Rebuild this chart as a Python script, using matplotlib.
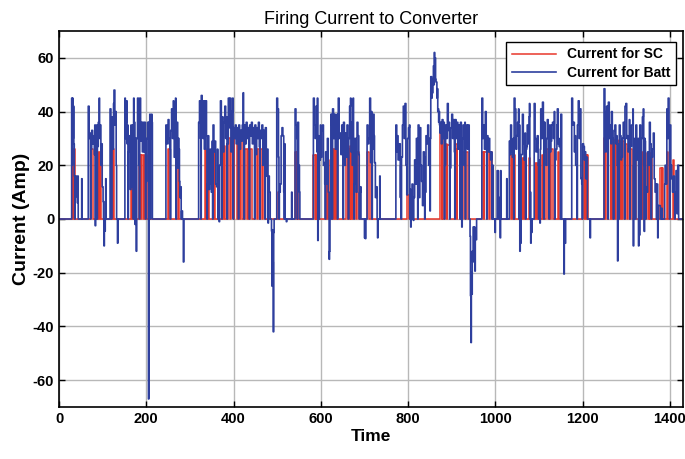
import numpy as np
import matplotlib
matplotlib.use('Agg')
import matplotlib.pyplot as plt

plt.rcParams['font.family'] = ['Liberation Sans', 'DejaVu Sans']
plt.rcParams['axes.unicode_minus'] = False

# Corrente da bateria (tempo, corrente)
batt_pts = [
    (0, 0), (28, 0), (29, 45), (30, 20), (31, 45), (32, 30), (33, 42), (34, 28), (35, 16), (37, 8), (38, 16),
    (40, 14), (42, 6), (43, 16), (44, 0), (51, 0), (52, 15), (53, 0),
    (66, 0), (67, 42), (69, 30), (71, 32), (73, 26), (75, 33), (77, 28), (79, 31), (81, 24), (82, 35), (83, -2.5),
    (84, 32), (86, 35), (88, 27), (90, 36), (92, 45), (93, 30), (94, 35), (96, 20), (97, 28), (99, 12), (101, 6.5),
    (102, 0), (103, -10), (104, 0), (105, -4.5), (106, 6.5), (107, 15), (108, 0),
    (116, 0), (117, 41), (119, 30), (121, 38), (123, 26), (125, 43), (126, 48), (128, 35), (130, 40), (131, 20),
    (132, 0), (134, -9), (135, 0),
    (150, 0), (151, 45), (152, 30), (153, 36), (155, 44), (156, 28), (157, 35), (159, 25), (161, 31), (163, 11),
    (165, 35), (166, 20), (167, 12), (169, 35), (171, 45), (172, 36), (174, -2), (175, 30), (177, -12), (178, 30),
    (180, 45), (182, 36), (183, 20), (185, 45), (187, 29), (189, 36), (191, 25), (193, 36), (195, 25), (197, 36),
    (199, 14), (201, 30), (203, 36), (205, -67), (206, 36), (208, 39), (210, 30), (212, 39), (213, 36), (214, 0),
    (244, 0), (245, 35), (247, 28), (250, 37), (252, 30), (254, 26), (256, 33), (258, 41), (260, 30), (262, 44),
    (263, 32), (264, 23), (266, 36), (267, 45), (269, 30), (270, 36), (272, 19), (273, 30), (275, 26), (276, 14),
    (277, 8), (279, 12), (281, 3), (283, 0), (285, -16), (286, 0),
    (319, 0), (320, 36), (322, 44), (324, 30), (326, 46), (328, 40), (330, 30), (331, 44), (333, 26), (335, 36),
    (336, 44), (338, 31), (340, 13), (342, 31), (343, 11), (345, 13), (347, 26), (349, 10), (351, 29), (353, 35),
    (355, 25), (357, 29), (359, 13), (361, 12), (363, 26), (365, 13), (367, -1), (368, 20), (370, 44), (372, 30),
    (374, 38), (376, 25), (378, 36), (380, 42), (382, 30), (384, 38), (386, 28), (388, 45), (390, 34), (392, 45),
    (394, 25), (396, 40), (398, 45), (400, 34), (402, 30), (404, 35), (406, 28), (408, 34), (410, 30), (412, 35),
    (414, 26), (416, 33), (418, 29), (420, 35), (422, 47), (423, 30), (425, 35), (427, 28), (429, 36), (431, 30),
    (433, 34), (435, 26), (437, 35), (439, 31), (441, 36), (443, 28), (445, 34), (447, 30), (449, 35), (451, 24),
    (453, 34), (455, 30), (457, 36), (459, 27), (461, 33), (463, 30), (465, 35), (467, 20), (469, 33), (471, 28),
    (473, 34), (475, 16), (477, 26), (479, -1.5), (480, 16), (482, 10), (484, 0), (487, -4.5), (488, -25),
    (489, -4), (490, -16), (491, -42), (492, -5), (493, 0),
    (498, 0), (499, 45), (501, 41), (503, 23), (505, 10), (507, 13), (509, 31), (511, 34), (513, 31), (515, 10),
    (517, 28), (518, 0), (521, -1), (522, 0), (532, 0), (533, 10), (534, 0),
    (540, 0), (541, 41), (543, 35), (545, 30), (547, 36), (549, 20), (551, 10), (552, 0),
    (582, 0), (583, 45), (585, 35), (587, 30), (589, 42), (591, 25), (592, 45), (593, -8), (594, 30), (595, 31),
    (597, 22), (599, 35), (600, 23), (602, 33), (604, 35), (606, 20), (607, 21), (609, 13), (611, 25), (613, 13),
    (615, 30), (617, 10), (619, -15), (620, -12), (621, 0), (623, 39), (625, 35), (627, 41), (629, 30), (631, 39),
    (633, 26), (635, 38), (637, 39), (639, 30), (640, 45), (642, 30), (644, 32), (646, 24), (648, 35), (650, 28),
    (652, 36), (654, 20), (656, 32), (658, 23), (660, 35), (662, 27), (664, 30), (666, 42), (668, 45), (669, 25),
    (671, 36), (672, 20), (674, 45), (675, 30), (677, 13), (679, 30), (681, 10), (683, 36), (685, 31), (687, 24),
    (689, 10), (691, 12), (692, 0),
    (699, 0), (700, -7), (701, 0), (702, -7.3), (703, 0), (705, 0), (706, 35), (708, 28), (710, 30), (712, 45),
    (714, 21), (716, 40), (718, 26), (720, 39), (722, 31), (723, 21), (725, 8), (727, 12), (729, 0), (730, -7),
    (731, 0), (734, 0), (735, 16), (736, 0),
    (770, 0), (772, 35), (774, 25), (775, 31), (777, 22), (779, 25), (780, 28), (782, 8), (783, 20), (785, 23),
    (787, 35), (789, 42), (791, 30), (793, 43), (795, 20), (797, 9), (799, 30), (801, 34), (803, 35), (805, 11),
    (806, -3), (807, 0), (809, 13), (811, 0), (812, -0.5), (813, 8), (815, 22), (817, 13), (819, 30), (821, 20),
    (823, 35), (825, 8), (827, 34), (829, 20), (831, 14), (833, 5), (835, 25), (837, 23), (839, 10), (841, 31),
    (843, 28), (845, 35), (847, 20), (849, 30), (850, 3),
    (851, 30), (852, 53), (854, 45), (855, 47), (857, 52), (858, 57), (859, 50), (860, 62), (861, 55), (862, 60),
    (863, 52), (864, 51), (866, 45), (867, 48.5), (868, 40), (869, 41), (870, 36), (871, 40), (872, 35), (873, 32),
    (874, 36), (876, 28), (878, 37), (880, 30), (882, 36), (884, 20), (886, 35), (888, 30), (890, 43), (892, 33),
    (894, 36), (896, 19), (898, 34), (900, 39), (902, 30), (904, 37), (906, 25), (908, 37), (910, 30), (912, 36),
    (914, 26), (916, 35), (918, 29), (920, 36), (922, 25), (923, -3), (924, 30), (926, 35), (928, 20), (930, 36),
    (932, 28), (934, 35), (936, 26), (938, 35), (940, 0),
    (941, 0), (942, -6.4), (943, -28.6), (944, -46), (945, -20), (946, -28), (947, -12), (948, -16), (949, -3),
    (951, -14), (952, -3), (953, -19.4), (954, -5), (956, -7.7), (957, 0),
    (968, 0), (969, 45), (971, 30), (973, 35), (975, 26), (977, 40), (979, 29), (981, 31), (983, 25), (985, 30),
    (987, 25), (989, 22), (991, 25), (993, 20), (995, 0), (999, -5), (1000, 0),
    (1003, 0), (1004, 18), (1006, 18), (1007, 0), (1009, 8), (1010, 0), (1011, -7), (1012, 18), (1013, 0),
    (1025, 0), (1026, 15), (1027, 0),
    (1030, 0), (1032, 29), (1034, 24), (1035, 35), (1037, 25), (1039, 23), (1041, 30), (1043, 45), (1045, 41),
    (1047, 26), (1049, 31), (1051, 36), (1053, 41), (1055, 35), (1056, -12), (1057, 0), (1058, -9), (1059, 24),
    (1060, 24), (1062, 39), (1064, 28), (1066, 22), (1068, 32), (1070, 26), (1072, 27), (1073, 35), (1075, 28),
    (1077, 38), (1078, 43), (1080, 10), (1081, -9), (1082, 0), (1083, -5), (1084, 0),
    (1088, 0), (1089, 43), (1091, 30), (1093, 25), (1095, 28), (1096, 31), (1098, 20), (1101, 22), (1102, -1.5),
    (1103, 26), (1104, 41), (1106, 30), (1108, 43.5), (1110, 36), (1112, 36), (1114, 25), (1116, 20), (1118, 30),
    (1119, 37), (1121, 30), (1124, 35), (1126, 25), (1127, 29), (1129, 35), (1131, 36), (1133, 30), (1135, 40),
    (1137, 22), (1139, 26), (1141, 35), (1142, 41), (1144, 28), (1146, 27), (1148, 30), (1150, 39), (1152, 0),
    (1156, 0), (1157, -20.5), (1158, -9), (1159, 0), (1160, -9), (1161, 0),
    (1174, 0), (1175, 45), (1177, 35), (1179, 36), (1181, 25), (1182, 31), (1184, 20), (1186, 20), (1188, 35),
    (1190, 44), (1192, 30), (1194, 41), (1196, 15), (1198, 13), (1200, 28), (1202, 27), (1204, 22), (1205, 25),
    (1207, 15), (1209, 23), (1211, 20), (1213, 0), (1217, -7), (1218, 0),
    (1248, 0), (1249, 48.5), (1251, 30), (1252, 25), (1254, 40), (1255, 42), (1257, 35), (1259, 43.5), (1261, 30),
    (1263, 35), (1265, 28), (1266, 40), (1268, 30), (1270, 25), (1272, 33), (1274, 35), (1276, 28), (1278, 31),
    (1279, 20), (1280, -15.6), (1281, 26), (1282, 28), (1284, 35), (1286, 31), (1288, 22), (1289, 23), (1291, 30),
    (1293, 36), (1295, 30), (1297, 42), (1299, 43), (1301, 30), (1302, 31), (1304, 25), (1307, 37), (1309, 28),
    (1310, 27), (1312, 35), (1315, 41), (1316, -10), (1317, 20), (1318, 25), (1320, 30), (1322, 35), (1324, 22),
    (1325, 27), (1327, 30), (1328, -10), (1329, 0), (1330, -6), (1331, 35), (1333, 24), (1335, 30), (1337, 38),
    (1339, 41), (1340, 20), (1341, -4.6), (1342, 30), (1343, 29), (1345, 12), (1347, 10), (1349, 25), (1351, 20),
    (1353, 36), (1355, 28), (1358, 23), (1360, 26), (1362, 32), (1364, 15), (1366, 10), (1368, 13), (1370, 13),
    (1372, -7), (1373, 5), (1376, 5), (1378, 0), (1381, 4), (1382, 0),
    (1386, 0), (1388, 13), (1389, 20), (1391, 13), (1393, 41), (1395, 30), (1396, 45), (1398, 30), (1400, 35),
    (1402, 20), (1404, 15), (1406, 10), (1408, 16), (1410, 10), (1412, 5), (1414, 18), (1416, 2), (1418, 20),
    (1420, 0), (1430, 0),
]

# instantes em que a corrente da bateria cai a zero dentro dos blocos
batt_drop = [36, 72, 87, 120, 158, 170, 184, 198, 209, 255, 268, 280,
             325, 339, 352, 364, 373, 385, 399, 411, 424, 436, 448, 460, 472, 504, 516, 546,
             596, 610, 626, 638, 651, 663, 676, 688, 717, 784, 804, 822, 838,
             883, 895, 907, 919, 931, 980, 992,
             1042, 1054, 1069, 1079, 1099, 1111, 1123, 1136, 1149, 1187, 1199, 1211,
             1258, 1270, 1283, 1296, 1308, 1320, 1333, 1344, 1357, 1369, 1399, 1411]

# Pulsos do supercapacitor (inicio, fim, corrente)
sc_pulses = [
    (29, 32, 26), (34, 36, 26),
    (73, 77, 26), (89, 92, 25), (95, 97, 25),
    (119, 122, 26), (123, 126, 26),
    (164, 168, 24), (169, 173, 24), (184, 188, 24), (189, 193, 24), (194, 197, 24), (199, 202, 24),
    (249, 253, 26), (272, 276, 24),
    (334, 338, 26), (342, 344, 26), (355, 357, 27),
    (373, 376, 27), (377, 380, 27), (387, 393, 30), (394, 400, 30), (401, 408, 31), (410, 414, 30),
    (415, 419, 30), (426, 431, 26), (432, 436, 26), (437, 442, 26), (449, 454, 26), (455, 460, 26),
    (461, 466, 26), (467, 472, 25),
    (502, 504, 10), (541, 545, 25), (546, 548, 25),
    (583, 587, 24), (588, 590, 24), (612, 615, 22), (616, 618, 22), (625, 629, 26), (630, 633, 26),
    (634, 637, 26), (658, 662, 26), (663, 666, 26), (667, 670, 27), (671, 674, 26), (676, 680, 25),
    (684, 687, 25),
    (706, 710, 25), (716, 718, 22), (798, 801, 9),
    (873, 877, 35), (878, 881, 33), (884, 889, 28), (890, 896, 27.5), (907, 912, 28), (913, 918, 26),
    (919, 923, 26), (926, 931, 25), (932, 937, 25),
    (969, 974, 25), (975, 980, 25), (981, 986, 25), (987, 992, 25),
    (1033, 1037, 24), (1038, 1042, 24), (1043, 1046, 24), (1060, 1064, 22.6), (1065, 1068, 22.6),
    (1077, 1080, 22.6),
    (1091, 1094, 21), (1095, 1098, 21), (1106, 1110, 24), (1117, 1121, 26), (1122, 1126, 26),
    (1127, 1132, 26), (1143, 1146, 25),
    (1201, 1205, 24), (1206, 1209, 24), (1210, 1212, 24),
    (1248, 1252, 30), (1253, 1258, 30), (1259, 1264, 30), (1265, 1269, 29), (1270, 1275, 29.6),
    (1276, 1280, 29.6), (1282, 1286, 29), (1287, 1291, 29), (1292, 1297, 29), (1298, 1302, 28),
    (1303, 1308, 26), (1309, 1313, 26), (1318, 1322, 24), (1330, 1334, 25), (1335, 1338, 25),
    (1347, 1351, 24.7), (1352, 1355, 24.7), (1356, 1359, 24.7), (1377, 1381, 19), (1382, 1384, 19),
    (1393, 1396, 25), (1406, 1409, 22),
]

t_fim = 1430

# bateria: pontos lidos + quedas a zero
pts = list(batt_pts) + [(t, 0) for t in batt_drop]
pts.sort(key=lambda p: p[0])
batt_t = [p[0] for p in pts]
batt_i = [p[1] for p in pts]

# forma de onda retangular do SC
sc_t = [0]
sc_i = [0]
for s, e, lv in sc_pulses:
    sc_t += [s, s, e, e]
    sc_i += [0, lv, lv, 0]
sc_t.append(t_fim)
sc_i.append(0)

fig = plt.figure(figsize=(6.85, 4.59), dpi=100)
ax = fig.add_axes([59 / 685, 52 / 459, 624 / 685, 376 / 459])

ax.plot(sc_t, sc_i, color='#e8372b', lw=1.1, label='Current for SC')
ax.plot(batt_t, batt_i, color='#2e3f9e', lw=1.2, drawstyle='steps-post', label='Current for Batt')

ax.set_xlim(0, t_fim)
ax.set_ylim(-70, 70)
ax.set_xticks(np.arange(0, 1401, 200))
ax.set_yticks(np.arange(-60, 61, 20))
ax.grid(True, color='#b8b8b8', lw=1.0)
ax.set_axisbelow(True)
ax.tick_params(direction='in', top=True, right=True, length=4, width=1, labelsize=10.5)
for lab in ax.get_xticklabels() + ax.get_yticklabels():
    lab.set_fontweight('bold')
for sp in ax.spines.values():
    sp.set_linewidth(1.2)

ax.set_title('Firing Current to Converter', fontsize=13, pad=5)
ax.set_xlabel('Time', fontsize=12.5, fontweight='bold', labelpad=2)
ax.set_ylabel('Current (Amp)', fontsize=14, fontweight='bold', labelpad=2)

leg = ax.legend(loc='upper right', fontsize=10, fancybox=False, framealpha=1, edgecolor='black',
                handlelength=3.2, borderpad=0.4, labelspacing=0.3, borderaxespad=0,
                bbox_to_anchor=(0.989, 0.971))
for t in leg.get_texts():
    t.set_fontweight('bold')
leg.get_frame().set_linewidth(1.0)

fig.savefig('out.png', dpi=100)
